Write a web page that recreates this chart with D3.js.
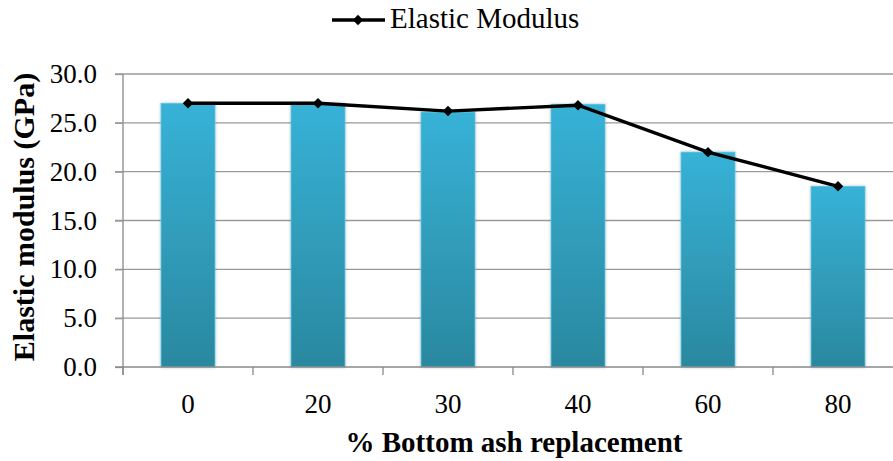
<!DOCTYPE html>
<html><head><meta charset="utf-8">
<script src="https://cdn.jsdelivr.net/npm/d3@7"></script>
<style>body{margin:0;background:#fff}svg{display:block}text{font-family:"Liberation Serif",Tinos,"Times New Roman",Times,serif}</style>
</head><body>
<svg id="c" width="893" height="461"></svg>
<script>
const categories = ["0","20","30","40","60","80"];
const barValues = [27.0, 27.0, 26.1, 26.9, 22.0, 18.5];
const lineValues = [27.0, 27.0, 26.2, 26.8, 22.0, 18.5];
const yTicks = [0,5,10,15,20,25,30];
const seriesName = "Elastic Modulus";
const xTitle = "% Bottom ash replacement";
const yTitle = "Elastic modulus (GPa)";

const svg = d3.select("#c");
const L = 123, R = 903, T = 74, B = 367;
const x = d3.scaleBand().domain(categories).range([L, R]).paddingInner(0.585).paddingOuter(0.2925);
const y = d3.scaleLinear().domain([0, 30]).range([B, T]);

const defs = svg.append("defs");
const g = defs.append("linearGradient").attr("id","bg").attr("x1",0).attr("y1",0).attr("x2",0).attr("y2",1);
g.append("stop").attr("offset","0%").attr("stop-color","#37B2D7");
g.append("stop").attr("offset","100%").attr("stop-color","#2A889F");
const f = defs.append("filter").attr("id","sh").attr("x","-20%").attr("y","-5%").attr("width","140%").attr("height","110%");
f.append("feGaussianBlur").attr("in","SourceAlpha").attr("stdDeviation",1.5).attr("result","b");
f.append("feFlood").attr("flood-color","#000").attr("flood-opacity",0.25);
f.append("feComposite").attr("in2","b").attr("operator","in").attr("result","s");
const fm = f.append("feMerge"); fm.append("feMergeNode").attr("in","s"); fm.append("feMergeNode").attr("in","SourceGraphic");

// gridlines
svg.append("g").selectAll("line").data(yTicks.filter(d=>d>0)).join("line")
  .attr("x1", L-8).attr("x2", 893).attr("y1", d=>y(d)).attr("y2", d=>y(d))
  .attr("stroke","#9a9a9a").attr("stroke-width",1.3);

// bars
svg.append("g").selectAll("rect").data(barValues).join("rect")
  .attr("x",(d,i)=>x(categories[i])).attr("width",x.bandwidth())
  .attr("y",d=>y(d)).attr("height",d=>B-y(d))
  .attr("fill","url(#bg)").attr("stroke","#5cc3de").attr("stroke-width",0.8)
  .attr("filter","url(#sh)");

// y axis
const yAxis = d3.axisLeft(y).tickValues(yTicks).tickFormat(d3.format(".1f")).tickSize(8).tickPadding(18);
const ya = svg.append("g").attr("transform",`translate(${L},0)`).call(yAxis);
ya.attr("font-family",null).attr("font-size",null);
ya.select(".domain").attr("stroke","#888").attr("stroke-width",1.3).attr("d",`M0,${T}V${B+8}`);
ya.selectAll(".tick line").attr("stroke","#9a9a9a").attr("stroke-width",1.3);
ya.selectAll("text").attr("font-size",27).attr("fill","#000");

// x axis line + boundary ticks
svg.append("line").attr("x1",L-8).attr("x2",893).attr("y1",B).attr("y2",B).attr("stroke","#888").attr("stroke-width",1.3);
const bounds = categories.map(c=>x(c) - x.step()*x.paddingInner()/2).concat([R]);
svg.append("g").selectAll("line").data(bounds).join("line")
  .attr("x1",d=>d).attr("x2",d=>d).attr("y1",B).attr("y2",B+8)
  .attr("stroke","#888").attr("stroke-width",1.3);
svg.append("g").selectAll("text").data(categories).join("text")
  .attr("x",d=>x(d)+x.bandwidth()/2).attr("y",413).attr("text-anchor","middle")
  .attr("font-size",27).text(d=>d);

// line
const cx = i => x(categories[i]) + x.bandwidth()/2;
svg.append("path").datum(lineValues)
  .attr("d", d3.line().x((d,i)=>cx(i)).y(d=>y(d)))
  .attr("fill","none").attr("stroke","#000").attr("stroke-width",3.4);
svg.append("g").selectAll("path").data(lineValues).join("path")
  .attr("transform",(d,i)=>`translate(${cx(i)},${y(d)})`)
  .attr("d", d3.symbol(d3.symbolDiamond2, 70)).attr("fill","#000");

// legend
svg.append("line").attr("x1",332).attr("x2",385).attr("y1",20).attr("y2",20).attr("stroke","#000").attr("stroke-width",3.4);
svg.append("path").attr("transform","translate(358,20)").attr("d", d3.symbol(d3.symbolDiamond2, 70)).attr("fill","#000");
svg.append("text").attr("x",390).attr("y",28).attr("font-size",29).text(seriesName);

// titles
svg.append("text").attr("x",514).attr("y",452).attr("text-anchor","middle")
  .attr("font-size",29).attr("font-weight","bold").text(xTitle);
svg.append("text").attr("transform","translate(34,217) rotate(-90)").attr("text-anchor","middle")
  .attr("font-size",30).attr("font-weight","bold").text(yTitle);
</script>
</body></html>
